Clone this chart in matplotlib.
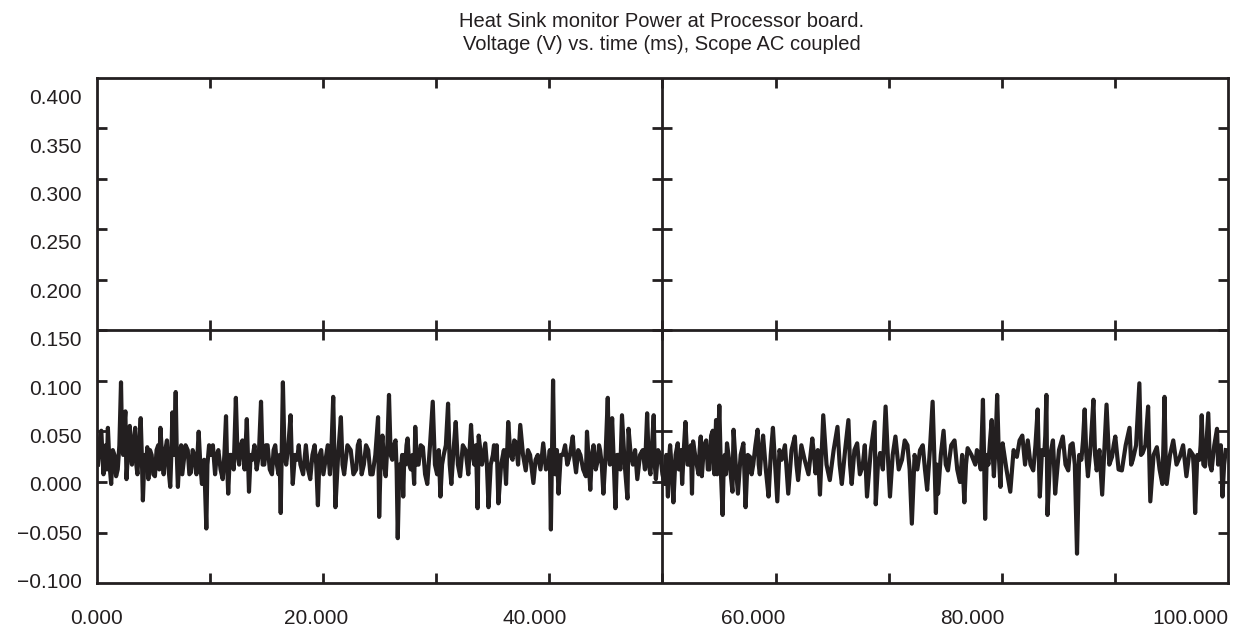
import matplotlib
matplotlib.use("Agg")
import matplotlib.pyplot as plt

# trace: time (ms) and voltage (V)
t_ms = [0.1, 0.25, 0.4, 0.5, 0.6, 0.8, 0.9, 1.0, 1.15, 1.3, 1.45, 1.6, 1.75, 1.9, 2.05, 2.2, 2.3, 2.4, 2.5, 2.6,
        2.7, 2.85, 3.0, 3.1, 3.2, 3.35, 3.5, 3.6, 3.7, 3.85, 4.0, 4.1, 4.2, 4.35, 4.5, 4.6, 4.7, 4.85, 5.0, 5.15,
        5.3, 5.45, 5.6, 5.7, 5.8, 5.95, 6.1, 6.25, 6.4, 6.55, 6.7, 6.8, 6.9, 7.05, 7.2, 7.3, 7.4, 7.55, 7.7, 7.8,
        7.9, 8.1, 8.3, 8.45, 8.6, 8.75, 8.9, 9.1, 9.3, 9.45, 9.6, 9.8, 10.0, 10.1, 10.25, 10.4, 10.6, 10.8, 10.95, 11.1,
        11.3, 11.5, 11.65, 11.8, 11.9, 12.0, 12.15, 12.3, 12.5, 12.7, 12.85, 13.0, 13.15, 13.3, 13.5, 13.7, 13.8, 13.9, 14.05, 14.2,
        14.4, 14.6, 14.8, 15.0, 15.15, 15.3, 15.45, 15.6, 15.8, 16.0, 16.15, 16.3, 16.45, 16.6, 16.7, 16.8, 17.0, 17.15, 17.3, 17.5,
        17.7, 17.8, 17.9, 18.1, 18.3, 18.45, 18.6, 18.85, 19.1, 19.3, 19.5, 19.7, 19.9, 20.05, 20.2, 20.35, 20.5, 20.7, 20.9, 21.1,
        21.3, 21.45, 21.6, 21.7, 21.8, 22.05, 22.3, 22.45, 22.6, 22.9, 23.2, 23.45, 23.7, 23.85, 24.0, 24.2, 24.4, 24.6, 24.8, 25.0,
        25.2, 25.45, 25.7, 25.8, 25.95, 26.1, 26.25, 26.4, 26.55, 26.7, 26.85, 27.0, 27.15, 27.3, 27.4, 27.5, 27.65, 27.8, 27.9, 28.0,
        28.1, 28.2, 28.3, 28.4, 28.55, 28.7, 28.85, 29.0, 29.1, 29.25, 29.4, 29.6, 29.8, 30.0, 30.2, 30.45, 30.7, 30.9, 31.1, 31.25,
        31.4, 31.55, 31.7, 31.9, 32.1, 32.25, 32.4, 32.6, 32.8, 33.0, 33.2, 33.45, 33.7, 33.95, 34.2, 34.35, 34.5, 34.65, 34.8, 34.9,
        35.2, 35.5, 35.65, 35.8, 36.0, 36.2, 36.3, 36.4, 36.55, 36.7, 36.95, 37.2, 37.3, 37.4, 37.6, 37.8, 38.0, 38.15, 38.3, 38.5,
        38.7, 38.95, 39.2, 39.4, 39.6, 39.75, 39.9, 40.1, 40.3, 40.55, 40.8, 41.05, 41.3, 41.4, 41.5, 41.7, 41.8, 41.9, 42.05, 42.2,
        42.4, 42.6, 42.8, 43.0, 43.25, 43.5, 43.65, 43.8, 44.0, 44.2, 44.45, 44.7, 44.8, 44.95, 45.1, 45.25, 45.4, 45.6, 45.8, 45.9,
        46.0, 46.15, 46.3, 46.5, 46.7, 46.8, 46.9, 47.0, 47.1, 47.25, 47.4, 47.55, 47.7, 47.85, 48.0, 48.25, 48.5, 48.6, 48.8, 49.0,
        49.2, 49.4, 49.65, 49.9, 50.1, 50.3, 50.45, 50.6, 50.75, 50.9, 51.0, 51.1, 51.3, 51.5, 51.7, 51.9, 52.05, 52.2, 52.3, 52.4,
        52.55, 52.7, 52.9, 53.1, 53.2, 53.3, 53.4, 53.5, 53.65, 53.8, 54.0, 54.2, 54.3, 54.4, 54.5, 54.75, 55.0, 55.1, 55.2, 55.3,
        55.5, 55.7, 55.85, 56.0, 56.15, 56.3, 56.45, 56.6, 56.7, 56.8, 56.9, 57.05, 57.2, 57.3, 57.4, 57.5, 57.6, 57.85, 58.1, 58.2,
        58.4, 58.6, 58.85, 59.1, 59.2, 59.3, 59.5, 59.7, 59.85, 60.0, 60.2, 60.4, 60.5, 60.6, 60.75, 60.9, 61.15, 61.4, 61.6, 61.8,
        62.0, 62.2, 62.4, 62.6, 62.9, 63.2, 63.5, 63.8, 63.95, 64.1, 64.4, 64.7, 65.05, 65.4, 65.55, 65.7, 65.9, 66.1, 66.25, 66.4,
        66.7, 67.0, 67.35, 67.7, 67.9, 68.1, 68.4, 68.7, 68.85, 69.0, 69.25, 69.5, 69.75, 70.0, 70.2, 70.4, 70.75, 71.1, 71.2, 71.4,
        71.6, 71.85, 72.1, 72.3, 72.5, 72.75, 73.0, 73.3, 73.6, 73.85, 74.1, 74.3, 74.5, 74.75, 75.0, 75.25, 75.5, 75.7, 75.9, 76.15,
        76.4, 76.55, 76.7, 76.8, 76.9, 77.15, 77.4, 77.6, 77.8, 78.1, 78.4, 78.65, 78.9, 79.1, 79.3, 79.45, 79.6, 79.95, 80.3, 80.45,
        80.6, 80.8, 81.0, 81.1, 81.2, 81.35, 81.5, 81.65, 81.8, 81.9, 82.0, 82.15, 82.3, 82.45, 82.6, 82.7, 82.8, 83.15, 83.5, 83.8,
        84.1, 84.35, 84.6, 84.85, 85.1, 85.35, 85.6, 85.8, 86.0, 86.1, 86.2, 86.4, 86.6, 86.7, 86.8, 86.9, 87.15, 87.4, 87.5, 87.6,
        87.95, 88.3, 88.55, 88.8, 89.0, 89.2, 89.4, 89.6, 89.8, 90.0, 90.15, 90.3, 90.45, 90.6, 90.85, 91.1, 91.25, 91.4, 91.65, 91.9,
        92.1, 92.3, 92.55, 92.8, 92.95, 93.1, 93.4, 93.7, 94.05, 94.4, 94.55, 94.7, 95.0, 95.3, 95.45, 95.6, 95.85, 96.1, 96.2, 96.3,
        96.6, 96.9, 97.15, 97.4, 97.5, 97.6, 97.7, 97.8, 98.1, 98.4, 98.7, 99.0, 99.3, 99.6, 99.9, 100.2, 100.3, 100.4, 100.6, 100.8,
        100.9, 101.0, 101.15, 101.3, 101.45, 101.6, 101.75, 101.9, 102.15, 102.4, 102.5, 102.6, 102.75, 102.9, 103.05, 103.2]
volts = [0.020, 0.045, 0.055, 0.030, 0.010, 0.040, 0.015, 0.058, 0.020, 0.000, 0.035, 0.030, 0.008, 0.015, 0.040, 0.105, 0.040, 0.030, 0.060, 0.075,
         0.005, 0.035, 0.060, 0.030, 0.020, 0.045, 0.058, 0.020, 0.010, 0.040, 0.068, 0.030, -0.017, 0.030, 0.020, 0.038, 0.005, 0.035, 0.030, 0.010,
         0.008, 0.035, 0.040, 0.015, 0.058, 0.030, 0.010, 0.035, 0.045, 0.015, -0.003, 0.030, 0.074, 0.030, 0.095, 0.030, -0.003, 0.030, 0.040, 0.010,
         0.020, 0.040, 0.035, 0.010, 0.012, 0.035, 0.030, 0.010, 0.054, 0.020, 0.000, 0.025, -0.046, 0.020, 0.040, 0.030, 0.040, 0.010, 0.030, 0.035,
         0.015, 0.005, 0.030, 0.070, 0.020, -0.010, 0.030, 0.030, 0.015, 0.089, 0.030, 0.020, 0.040, 0.045, 0.015, 0.067, 0.030, -0.008, 0.030, 0.025,
         0.040, 0.015, 0.030, 0.085, 0.020, 0.020, 0.040, 0.040, 0.015, 0.010, 0.035, 0.040, 0.020, 0.010, 0.030, -0.030, 0.105, 0.030, 0.020, 0.040,
         0.071, 0.030, 0.000, 0.030, 0.025, 0.040, 0.020, 0.010, 0.040, 0.015, 0.005, 0.030, 0.040, 0.020, -0.022, 0.030, 0.035, 0.010, 0.025, 0.040,
         0.010, 0.040, 0.090, 0.030, -0.024, 0.030, 0.069, 0.020, 0.010, 0.040, 0.035, 0.010, 0.015, 0.040, 0.045, 0.010, 0.020, 0.040, 0.035, 0.010,
         0.010, 0.030, 0.069, -0.034, 0.030, 0.050, 0.020, 0.008, 0.040, 0.092, 0.030, 0.025, 0.040, 0.045, 0.015, -0.056, 0.020, 0.015, 0.030, -0.013,
         0.030, 0.020, 0.040, 0.047, 0.020, 0.015, 0.030, 0.000, 0.059, 0.020, 0.020, 0.040, 0.038, 0.010, 0.000, 0.040, 0.085, 0.020, 0.010, 0.035,
         -0.013, 0.020, 0.030, 0.040, 0.083, 0.020, 0.000, 0.035, 0.064, 0.020, 0.008, 0.040, 0.035, 0.010, 0.061, 0.030, 0.020, 0.040, -0.025, 0.050,
         0.020, 0.042, 0.020, -0.024, 0.020, 0.030, 0.040, 0.025, 0.040, -0.020, 0.020, 0.035, 0.020, 0.000, 0.064, 0.030, 0.025, 0.045, 0.043, 0.020,
         0.061, 0.030, 0.014, 0.035, 0.030, 0.015, 0.001, 0.025, 0.030, 0.015, 0.042, 0.015, 0.020, 0.035, -0.047, 0.107, 0.030, 0.010, 0.035, -0.010,
         0.030, 0.030, 0.040, 0.020, 0.030, 0.049, 0.025, 0.012, 0.035, 0.030, 0.015, 0.008, 0.054, 0.025, -0.006, 0.030, 0.040, 0.015, 0.025, 0.040,
         0.035, 0.020, -0.010, 0.030, 0.089, 0.030, 0.020, 0.045, 0.068, 0.020, -0.025, 0.030, 0.030, 0.015, 0.071, 0.020, -0.015, 0.057, 0.030, 0.020,
         0.035, 0.005, 0.030, 0.035, 0.015, 0.073, 0.020, 0.010, 0.040, 0.071, 0.020, 0.005, 0.035, 0.030, 0.010, 0.000, 0.030, -0.013, 0.025, 0.040,
         0.015, -0.019, 0.030, 0.042, 0.015, 0.020, 0.035, 0.000, 0.035, 0.064, 0.020, 0.020, 0.040, -0.010, 0.044, 0.025, 0.010, 0.035, 0.049, 0.008,
         0.040, 0.045, 0.015, 0.015, 0.050, 0.055, 0.010, 0.066, 0.010, 0.045, 0.081, 0.010, -0.032, 0.020, 0.030, 0.010, 0.042, 0.020, -0.008, 0.056,
         0.020, -0.010, 0.030, 0.042, 0.010, -0.024, 0.030, 0.028, 0.010, 0.020, 0.040, 0.056, 0.020, 0.010, 0.035, 0.050, 0.015, -0.013, 0.030, 0.058,
         0.020, -0.018, 0.035, 0.025, 0.040, -0.010, 0.035, 0.049, 0.020, 0.004, 0.040, 0.025, 0.010, 0.047, 0.030, 0.011, 0.035, -0.011, 0.030, 0.071,
         0.020, 0.004, 0.035, 0.059, 0.020, 0.000, 0.035, 0.066, 0.020, 0.000, 0.035, 0.042, 0.010, 0.018, 0.040, -0.013, 0.035, 0.064, -0.021, 0.020,
         0.032, 0.015, 0.080, 0.030, -0.013, 0.030, 0.049, 0.015, 0.025, 0.045, 0.040, 0.015, -0.041, 0.030, 0.015, 0.035, 0.040, 0.015, -0.006, 0.035,
         0.085, 0.030, -0.030, 0.020, -0.010, 0.030, 0.055, 0.020, 0.014, 0.040, 0.045, 0.015, 0.002, 0.030, -0.019, 0.020, 0.037, 0.030, 0.020, 0.035,
         0.030, 0.015, 0.087, 0.030, -0.036, 0.030, 0.020, 0.045, 0.066, 0.030, 0.008, 0.040, 0.092, 0.030, -0.003, 0.030, 0.042, 0.015, -0.008, 0.035,
         0.028, 0.045, 0.050, 0.020, 0.045, 0.020, 0.014, 0.040, 0.077, 0.030, -0.013, 0.035, 0.030, 0.050, 0.092, -0.032, 0.030, 0.045, 0.020, -0.010,
         0.035, 0.049, 0.020, 0.014, 0.040, 0.042, 0.020, -0.072, 0.030, 0.025, 0.045, 0.077, 0.030, 0.008, 0.040, 0.087, 0.030, 0.014, 0.035, -0.011,
         0.035, 0.082, 0.020, 0.028, 0.040, 0.049, 0.015, 0.014, 0.040, 0.058, 0.020, 0.025, 0.040, 0.104, 0.030, 0.032, 0.040, 0.080, 0.030, -0.018,
         0.030, 0.038, 0.015, 0.000, 0.040, 0.090, 0.030, 0.000, 0.030, 0.045, 0.020, 0.028, 0.040, 0.008, 0.035, 0.030, 0.010, -0.030, 0.030, 0.025,
         0.040, 0.071, 0.020, 0.018, 0.045, 0.073, 0.020, 0.014, 0.040, 0.057, 0.020, 0.025, 0.040, -0.013, 0.020, 0.035]

x_labels = [0, 20, 40, 60, 80, 100]
y_labels = [-0.100, -0.050, 0.000, 0.050, 0.100, 0.150, 0.200, 0.250, 0.300, 0.350, 0.400]

ink = "#231f20"
plt.rcParams["font.family"] = ["Liberation Sans", "DejaVu Sans"]

fig = plt.figure(figsize=(12.35, 6.3), dpi=100)
ax = fig.add_axes([0.0785, 0.0746, 0.9158, 0.8016])

x0, x1 = 0.0, 103.4
y0, y1 = -0.1023, 0.4194
ax.set_xlim(x0, x1)
ax.set_ylim(y0, y1)

# scope graticule: 10 divisions each way, cross lines in the middle
xdiv = [x0 + k * (x1 - x0) / 10 for k in range(11)]
ydiv = [y0 + k * (y1 - y0) / 10 for k in range(11)]
xc, yc = xdiv[5], ydiv[5]
ax.axvline(xc, color=ink, lw=2)
ax.axhline(yc, color=ink, lw=2)
ax.plot(xdiv[1:-1], [yc] * 9, ls="none", marker="|", ms=14, mew=2, color=ink)
ax.plot([xc] * 9, ydiv[1:-1], ls="none", marker="_", ms=14, mew=2, color=ink)

ax.plot(t_ms, volts, color=ink, lw=3.0)

for s in ax.spines.values():
    s.set_linewidth(2)
    s.set_color(ink)

ax.set_xticks(x_labels)
ax.set_xticklabels(["%.3f" % v for v in x_labels])
ax.set_yticks(y_labels)
ax.set_yticklabels([("%.3f" % v).replace("-", "\u2212") for v in y_labels])
ax.set_xticks(xdiv[1:-1], minor=True)
ax.set_yticks(ydiv[1:-1], minor=True)
ax.tick_params(which="major", length=0, labelsize=15, labelcolor=ink)
ax.tick_params(axis="x", which="major", pad=19)
ax.tick_params(axis="y", which="major", pad=11)
ax.tick_params(which="minor", direction="in", length=7, width=2, color=ink,
               top=True, right=True)

fig.text(0.536, 0.966, "Heat Sink monitor Power at Processor board.", ha="center", va="center",
         fontsize=14.5, color=ink)
fig.text(0.536, 0.93, "Voltage (V) vs. time (ms), Scope AC coupled", ha="center", va="center",
         fontsize=14.5, color=ink)

fig.savefig("out.png", dpi=100)
